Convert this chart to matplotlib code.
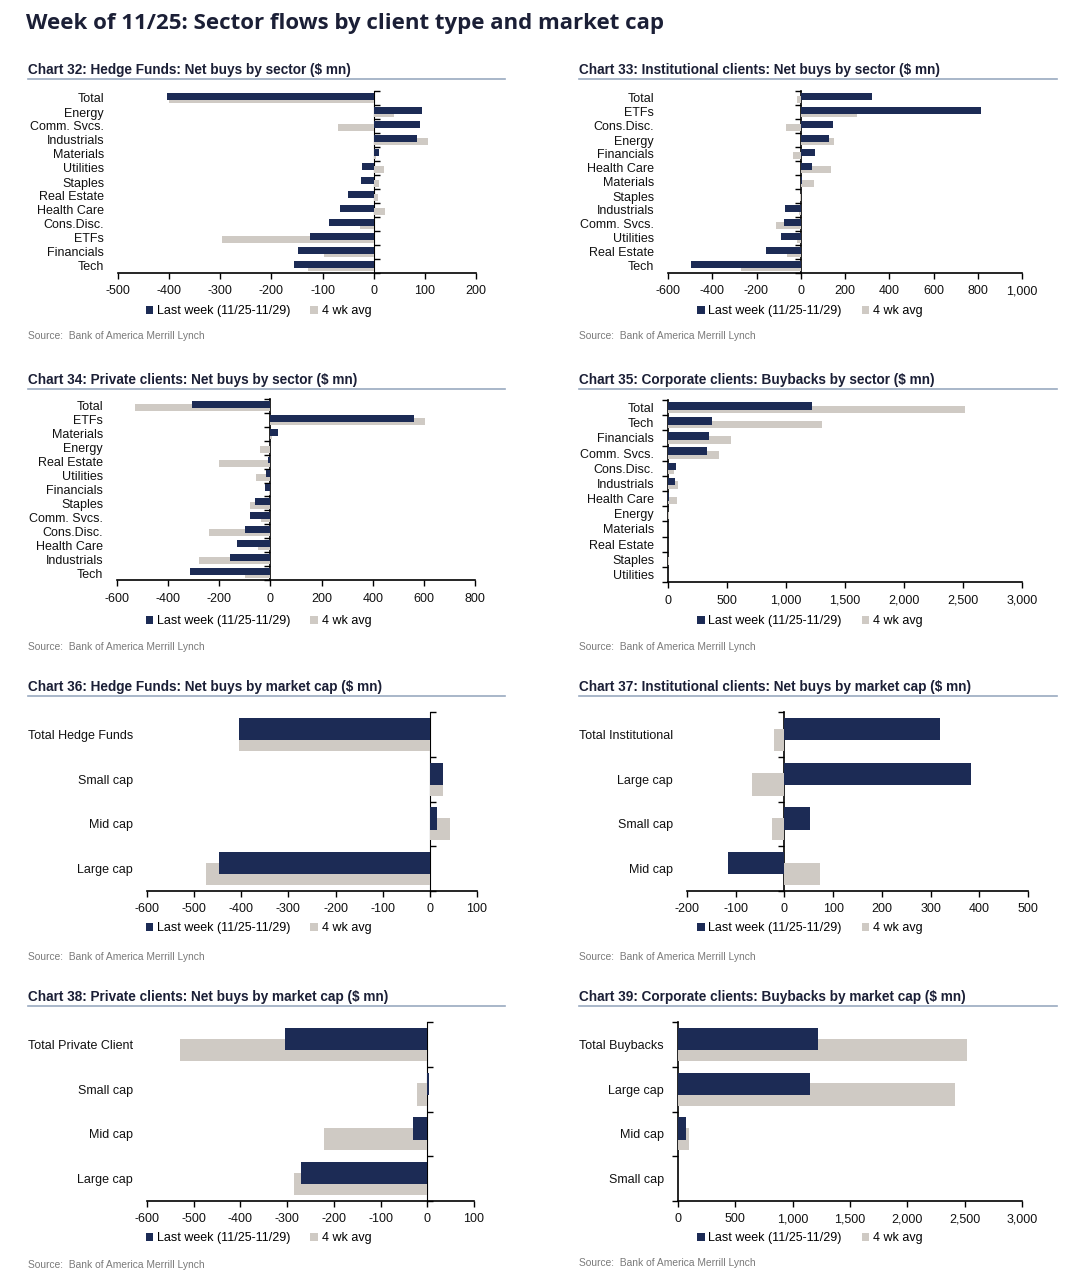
import numpy as np
import matplotlib
matplotlib.use('Agg')
import matplotlib.pyplot as plt
from matplotlib.ticker import FuncFormatter, FixedLocator

plt.rcParams['axes.unicode_minus'] = False

NAVY = '#1c2b55'
GREY = '#cfcac4'
TITLE_C = '#1b1f36'
LINE_C = '#9aaac0'
SANS = ['Liberation Sans', 'DejaVu Sans']

# ---- data ($ mn) ----
hf_sec_cats = ['Total', 'Energy', 'Comm. Svcs.', 'Industrials', 'Materials', 'Utilities', 'Staples',
               'Real Estate', 'Health Care', 'Cons.Disc.', 'ETFs', 'Financials', 'Tech']
hf_sec_last = [-405, 95, 90, 85, 10, -22, -25, -50, -66, -87, -125, -148, -155]
hf_sec_avg = [-400, 40, -70, 107, 5, 20, 10, 8, 22, -27, -296, -98, -128]

inst_sec_cats = ['Total', 'ETFs', 'Cons.Disc.', 'Energy', 'Financials', 'Health Care', 'Materials',
                 'Staples', 'Industrials', 'Comm. Svcs.', 'Utilities', 'Real Estate', 'Tech']
inst_sec_last = [322, 815, 147, 129, 65, 52, 5, 2, -70, -76, -88, -159, -495]
inst_sec_avg = [-18, 252, -67, 149, -37, 136, 60, -5, -10, -110, -15, -63, -269]

priv_sec_cats = ['Total', 'ETFs', 'Materials', 'Energy', 'Real Estate', 'Utilities', 'Financials',
                 'Staples', 'Comm. Svcs.', 'Cons.Disc.', 'Health Care', 'Industrials', 'Tech']
priv_sec_last = [-305, 561, 30, -2, -8, -18, -22, -61, -78, -98, -131, -158, -315]
priv_sec_avg = [-531, 603, 5, -39, -201, -55, -5, -81, -35, -240, -48, -279, -100]

corp_sec_cats = ['Total', 'Tech', 'Financials', 'Comm. Svcs.', 'Cons.Disc.', 'Industrials', 'Health Care',
                 'Energy', 'Materials', 'Real Estate', 'Staples', 'Utilities']
corp_sec_last = [1222, 370, 345, 332, 65, 61, 12, 0, 0, 0, 0, 0]
corp_sec_avg = [2521, 1306, 533, 428, 50, 85, 76, 5, 3, 2, 5, 2]

hf_cap_cats = ['Total Hedge Funds', 'Small cap', 'Mid cap', 'Large cap']
hf_cap_last = [-404, 28, 16, -448]
hf_cap_avg = [-404, 27, 42, -475]

inst_cap_cats = ['Total Institutional', 'Large cap', 'Small cap', 'Mid cap']
inst_cap_last = [319, 383, 52, -115]
inst_cap_avg = [-22, -66, -26, 73]

priv_cap_cats = ['Total Private Client', 'Small cap', 'Mid cap', 'Large cap']
priv_cap_last = [-304, 3, -30, -271]
priv_cap_avg = [-529, -21, -221, -286]

corp_cap_cats = ['Total Buybacks', 'Large cap', 'Mid cap', 'Small cap']
corp_cap_last = [1221, 1148, 73, 0]
corp_cap_avg = [2521, 2419, 95, 0]

series_labels = ['Last week (11/25-11/29)', '4 wk avg']
source_text = 'Source:  Bank of America Merrill Lynch'

W, H = 1071, 1280
fig = plt.figure(figsize=(W / 100, H / 100), dpi=100)


def box(l, t, r, b):
    return [l / W, 1 - b / H, (r - l) / W, (b - t) / H]


panels = [
    # title, cats, last, avg, xlim, step, axes px box, panel left/right, title y, legend y, source y
    ('Chart 32: Hedge Funds: Net buys by sector ($ mn)', hf_sec_cats, hf_sec_last, hf_sec_avg,
     (-500, 200), 100, (118, 91, 476, 273), (28, 505), 70, 311, 336),
    ('Chart 33: Institutional clients: Net buys by sector ($ mn)', inst_sec_cats, inst_sec_last, inst_sec_avg,
     (-600, 1000), 200, (668, 91, 1022, 273), (579, 1057), 70, 311, 336),
    ('Chart 34: Private clients: Net buys by sector ($ mn)', priv_sec_cats, priv_sec_last, priv_sec_avg,
     (-600, 800), 200, (117, 399, 475, 580), (28, 505), 380, 621, 647),
    ('Chart 35: Corporate clients: Buybacks by sector ($ mn)', corp_sec_cats, corp_sec_last, corp_sec_avg,
     (0, 3000), 500, (668, 400, 1022, 582), (579, 1057), 380, 621, 647),
    ('Chart 36: Hedge Funds: Net buys by market cap ($ mn)', hf_cap_cats, hf_cap_last, hf_cap_avg,
     (-600, 100), 100, (147, 712, 477, 891), (28, 505), 687, 928, 957),
    ('Chart 37: Institutional clients: Net buys by market cap ($ mn)', inst_cap_cats, inst_cap_last, inst_cap_avg,
     (-200, 500), 100, (687, 712, 1028, 891), (579, 1057), 687, 928, 957),
    ('Chart 38: Private clients: Net buys by market cap ($ mn)', priv_cap_cats, priv_cap_last, priv_cap_avg,
     (-600, 100), 100, (147, 1022, 474, 1201), (28, 505), 997, 1238, 1265),
    ('Chart 39: Corporate clients: Buybacks by market cap ($ mn)', corp_cap_cats, corp_cap_last, corp_cap_avg,
     (0, 3000), 500, (678, 1022, 1022, 1201), (579, 1057), 997, 1238, 1263),
]

fmt = FuncFormatter(lambda v, p: '{:,.0f}'.format(v))

fig.text(26 / W, 1 - 24 / H, 'Week of 11/25: Sector flows by client type and market cap',
         fontsize=16, fontweight='bold', color=TITLE_C, family=['Open Sans', 'DejaVu Sans'],
         va='center', ha='left')

for (title, cats, last, avg, xlim, step, pbox, prange, ty, ly, sy) in panels:
    ax = fig.add_axes(box(*pbox))
    n = len(cats)
    y = np.arange(n)
    h = 0.5
    off = 0.12
    g = ax.barh(y + off, avg, height=h, color=GREY, zorder=1, label=series_labels[1])
    d = ax.barh(y - off, last, height=h, color=NAVY, zorder=2, label=series_labels[0])
    ax.set_xlim(*xlim)
    ax.set_ylim(n - 0.5, -0.5)
    ax.set_xticks(np.arange(xlim[0], xlim[1] + step / 2, step))
    ax.xaxis.set_major_formatter(fmt)
    ax.set_yticks(y)
    ax.set_yticklabels(cats)
    for s in ['top', 'right', 'left']:
        ax.spines[s].set_visible(False)
    ax.spines['bottom'].set_linewidth(1.2)
    ax.tick_params(axis='y', length=0, pad=10, labelsize=9)
    ax.tick_params(axis='x', length=4, width=1, direction='out', pad=5, labelsize=9)
    for lab in ax.get_xticklabels() + ax.get_yticklabels():
        lab.set_family(SANS)
        lab.set_color('#111111')

    # vertical axis line at zero with ticks between categories
    frac = (0 - xlim[0]) / (xlim[1] - xlim[0])
    sec = ax.secondary_yaxis(frac)
    sec.spines['left'].set_linewidth(1.2)
    sec.yaxis.set_major_locator(FixedLocator(np.arange(n + 1) - 0.5))
    sec.set_yticklabels([])
    sec.tick_params(axis='y', length=4, width=1, direction='out')

    # panel title and rule
    fig.text(prange[0] / W, 1 - ty / H, title, fontsize=9.8, fontweight='bold', color=TITLE_C,
             family=SANS, va='center', ha='left')
    fig.add_artist(plt.Line2D([prange[0] / W, prange[1] / W], [1 - (ty + 9) / H, 1 - (ty + 9) / H],
                              color=LINE_C, lw=1.2))

    cx = ((prange[0] + prange[1]) / 2 - 8) / W
    ax.legend(handles=[d, g], loc='center', bbox_to_anchor=(cx, 1 - ly / H),
              bbox_transform=fig.transFigure, ncol=2, frameon=False,
              handlelength=0.6, handleheight=0.6, handletextpad=0.3, columnspacing=1.6,
              prop={'family': SANS, 'size': 9})

    fig.text(prange[0] / W, 1 - sy / H, source_text, fontsize=7.4, color='#7a7a7a',
             family=SANS, va='center', ha='left')

fig.savefig('out.png', dpi=100, facecolor='white')
